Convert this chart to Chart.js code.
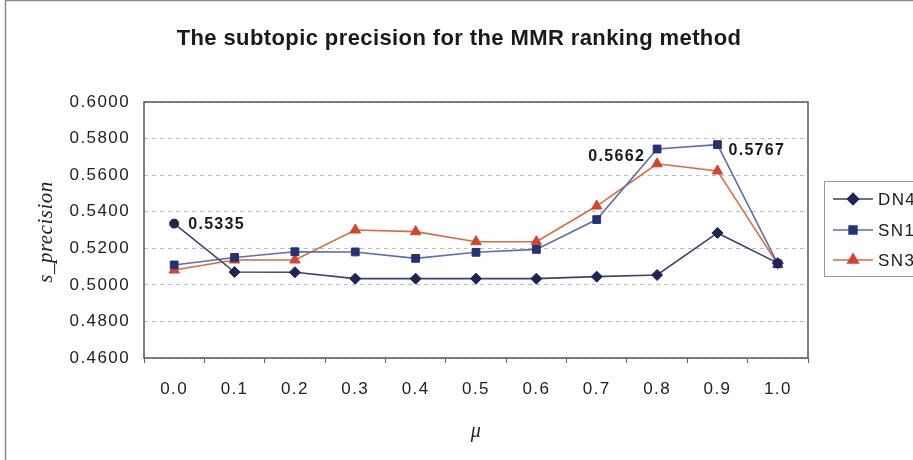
<!DOCTYPE html>
<html>
<head>
<meta charset="utf-8">
<script src="https://cdn.jsdelivr.net/npm/chart.js@4"></script>
<style>
  html, body { margin: 0; padding: 0; background: #ffffff; }
  #wrap { width: 913px; height: 460px; }
</style>
</head>
<body>
<div id="wrap"><canvas id="c" width="913" height="460"></canvas></div>
<script>
// ---- data ----
const categories = ['0.0', '0.1', '0.2', '0.3', '0.4', '0.5', '0.6', '0.7', '0.8', '0.9', '1.0'];
const seriesNames = ['DN4', 'SN1', 'SN3'];
const dn4 = [0.5335, 0.5070, 0.5069, 0.5034, 0.5034, 0.5034, 0.5034, 0.5045, 0.5054, 0.5284, 0.5119];
const sn1 = [0.5109, 0.5150, 0.5181, 0.5180, 0.5145, 0.5178, 0.5194, 0.5357, 0.5743, 0.5767, 0.5115];
const sn3 = [0.5081, 0.5136, 0.5136, 0.5300, 0.5291, 0.5236, 0.5236, 0.5431, 0.5662, 0.5623, 0.5112];
const yTicks = [0.46, 0.48, 0.50, 0.52, 0.54, 0.56, 0.58, 0.60];
const titleText = 'The subtopic precision for the MMR ranking method';
const yTitle = 's_precision';
const xTitle = 'μ';
// labelled points: [seriesIndex, categoryIndex]
const labelled = [[0, 0], [2, 8], [1, 9]];

const SANS = '"Liberation Sans", Arial, sans-serif';
const SERIF = '"Liberation Serif", "Times New Roman", serif';

const colors = {
  DN4: { line: '#3b4174', point: '#1d2456', style: 'rectRot', radius: 5.5 },
  SN1: { line: '#5d6cb8', point: '#263273', style: 'rect', radius: 5.5 },
  SN3: { line: '#e0683e', point: '#d7432b', style: 'triangle', radius: 6 }
};

function setSpacing(chart) {
  chart.ctx.letterSpacing = '1.4px';
}

const decor = {
  id: 'decor',
  beforeUpdate(chart) { setSpacing(chart); },
  beforeLayout(chart) { setSpacing(chart); },
  beforeDraw(chart) {
    setSpacing(chart);
    const ctx = chart.ctx;
    ctx.save();
    ctx.fillStyle = '#ffffff';
    ctx.fillRect(0, 0, chart.width, chart.height);
    ctx.strokeStyle = '#8a8a8a';
    ctx.lineWidth = 1.5;
    ctx.strokeRect(5.5, 0.5, chart.width + 20, chart.height + 20);
    ctx.restore();
  },
  afterDraw(chart) {
    const ctx = chart.ctx;
    const a = chart.chartArea;
    ctx.save();
    // plot border
    ctx.strokeStyle = '#555555';
    ctx.lineWidth = 1.5;
    ctx.strokeRect(a.left, a.top, a.right - a.left, a.bottom - a.top);

    // chart title
    ctx.fillStyle = '#1a1a1a';
    ctx.letterSpacing = '0.4px';
    ctx.font = 'bold 22px ' + SANS;
    ctx.textAlign = 'center';
    ctx.textBaseline = 'middle';
    ctx.fillText(titleText, 459, 39);

    // axis titles
    ctx.fillStyle = '#222222';
    ctx.letterSpacing = '0.5px';
    ctx.font = 'italic 21px ' + SERIF;
    ctx.save();
    ctx.translate(46, (a.top + a.bottom) / 2 + 2);
    ctx.rotate(-Math.PI / 2);
    ctx.fillText(yTitle, 0, 0);
    ctx.restore();
    ctx.font = 'italic 20px ' + SERIF;
    ctx.fillText(xTitle, (a.left + a.right) / 2, 432);

    // data labels
    ctx.letterSpacing = '1.3px';
    ctx.font = 'bold 16px ' + SANS;
    ctx.fillStyle = '#1a1a1a';
    labelled.forEach(([si, ci]) => {
      const el = chart.getDatasetMeta(si).data[ci];
      const v = chart.data.datasets[si].data[ci];
      const txt = v.toFixed(4);
      if (si === 0) {
        ctx.textAlign = 'left';
        ctx.fillText(txt, el.x + 14, el.y + 1);
      } else if (si === 2) {
        ctx.textAlign = 'right';
        ctx.fillText(txt, el.x - 12, el.y - 7);
      } else {
        ctx.textAlign = 'left';
        ctx.fillText(txt, el.x + 11, el.y + 6);
      }
    });

    // legend
    const lx = 824, ly = 181;
    ctx.fillStyle = '#ffffff';
    ctx.fillRect(lx, ly, 120, 95);
    ctx.strokeStyle = '#9a9a9a';
    ctx.lineWidth = 1;
    ctx.strokeRect(lx + 0.5, ly + 0.5, 120, 95);
    ctx.letterSpacing = '1.4px';
    ctx.font = '17px ' + SANS;
    ctx.textAlign = 'left';
    ctx.textBaseline = 'middle';
    const rowsY = [199, 230, 260];
    chart.data.datasets.forEach((ds, i) => {
      const y = rowsY[i];
      const c = colors[ds.label];
      ctx.strokeStyle = c.line;
      ctx.lineWidth = 1.6;
      ctx.beginPath();
      ctx.moveTo(833, y);
      ctx.lineTo(873, y);
      ctx.stroke();
      ctx.fillStyle = c.point;
      ctx.strokeStyle = c.point;
      Chart.helpers.drawPoint(ctx, { pointStyle: c.style, radius: c.radius, borderWidth: 1 }, 853, y);
      ctx.fillStyle = '#1a1a1a';
      ctx.fillText(ds.label, 878, y + 1);
    });
    ctx.restore();
  }
};

function makeDataset(name, values) {
  const c = colors[name];
  return {
    label: name,
    data: values,
    borderColor: c.line,
    borderWidth: 1.6,
    backgroundColor: c.point,
    pointBackgroundColor: c.point,
    pointBorderColor: c.point,
    pointBorderWidth: 1,
    pointStyle: name === 'DN4' ? values.map((v, i) => i === 0 ? 'circle' : 'rectRot') : c.style,
    pointRadius: name === 'DN4' ? values.map((v, i) => i === 0 ? 4.5 : c.radius) : c.radius,
    tension: 0,
    fill: false
  };
}

const datasets = [
  makeDataset('DN4', dn4),
  makeDataset('SN1', sn1),
  makeDataset('SN3', sn3)
];

new Chart(document.getElementById('c'), {
  type: 'line',
  data: { labels: categories, datasets: datasets },
  plugins: [decor],
  options: {
    responsive: false,
    animation: false,
    devicePixelRatio: 1,
    layout: { padding: { left: 0, right: 0, top: 102, bottom: 0 } },
    plugins: {
      legend: { display: false },
      tooltip: { enabled: false },
      title: { display: false }
    },
    scales: {
      x: {
        type: 'category',
        offset: true,
        grid: {
          display: true,
          offset: true,
          drawOnChartArea: false,
          drawTicks: true,
          tickLength: 5,
          color: '#666666',
          lineWidth: 1
        },
        border: { display: false },
        ticks: {
          color: '#222222',
          font: { family: SANS, size: 17 },
          padding: 16,
          maxRotation: 0,
          autoSkip: false
        },
        afterFit(scale) { scale.height = 102; }
      },
      y: {
        type: 'linear',
        min: yTicks[0],
        max: yTicks[yTicks.length - 1],
        afterBuildTicks(scale) { scale.ticks = yTicks.map(v => ({ value: v })); },
        grid: {
          display: true,
          drawTicks: false,
          color: '#bdbdbd',
          lineWidth: 1
        },
        border: { display: false, dash: [4, 4] },
        ticks: {
          color: '#222222',
          font: { family: SANS, size: 17 },
          padding: 14,
          callback: (v) => Number(v).toFixed(4)
        },
        afterFit(scale) { scale.width = 144; }
      },
      yRight: {
        type: 'linear',
        position: 'right',
        display: true,
        min: 0, max: 1,
        grid: { display: false, drawTicks: false },
        border: { display: false },
        ticks: { display: false },
        afterFit(scale) { scale.width = 105; }
      }
    }
  }
});
</script>
</body>
</html>
